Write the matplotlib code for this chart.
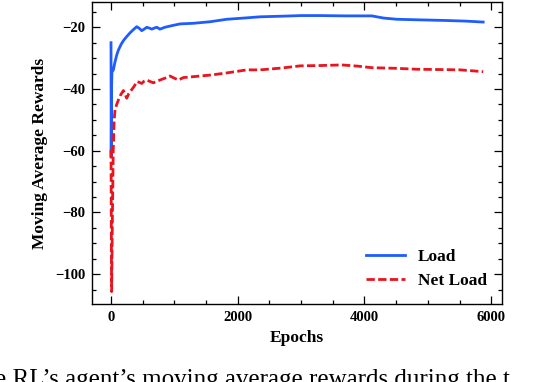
import matplotlib
matplotlib.use("Agg")
import matplotlib.pyplot as plt
from matplotlib.ticker import MultipleLocator

load_epochs = [0, 3, 8, 15, 37, 60, 90, 116, 160, 200, 248, 300, 350, 406, 450, 485, 530, 564,
               610, 643, 690, 722, 750, 772, 850, 931, 1089, 1300, 1563, 1826, 2100, 2352, 2700,
               3000, 3300, 3700, 4115, 4300, 4510, 4900, 5300, 5600, 5873]
load_values = [-25.0, -62.0, -40.0, -34.5, -33.8, -31.5, -29.0, -27.4, -25.5, -24.2, -23.0, -21.8,
               -20.8, -19.8, -20.4, -21.1, -20.5, -20.0, -20.3, -20.6, -20.2, -20.0, -20.3, -20.6,
               -20.0, -19.6, -18.9, -18.7, -18.2, -17.4, -17.0, -16.6, -16.4, -16.2, -16.2, -16.3,
               -16.3, -17.0, -17.4, -17.6, -17.8, -18.0, -18.3]

net_epochs = [0, 3, 6, 10, 20, 35, 50, 63, 90, 116, 150, 195, 220, 248, 280, 327, 370, 406, 440,
              485, 520, 564, 620, 669, 720, 772, 850, 931, 1000, 1063, 1142, 1300, 1563, 1826,
              2141, 2352, 2700, 2983, 3300, 3640, 3900, 4115, 4500, 4825, 5200, 5509, 5700, 5873]
net_values = [-59.8, -75.0, -90.0, -105.7, -85.0, -60.0, -50.0, -46.8, -45.0, -43.6, -42.0, -40.5,
              -41.5, -43.0, -41.5, -40.2, -39.0, -37.6, -37.8, -38.2, -37.5, -37.1, -37.6, -38.0,
              -37.5, -37.1, -36.5, -35.8, -36.5, -37.1, -36.3, -36.0, -35.5, -34.8, -33.8, -33.8,
              -33.2, -32.5, -32.4, -32.2, -32.6, -33.1, -33.3, -33.6, -33.7, -33.8, -34.1, -34.4]

series_labels = ["Load", "Net Load"]
x_label = "Epochs"
y_label = "Moving Average Rewards"
caption = "e RL\u2019s agent\u2019s moving average rewards during the t"

plt.rcParams['font.family'] = ['Liberation Serif', 'DejaVu Serif']
plt.rcParams['font.weight'] = 'bold'
plt.rcParams['axes.labelweight'] = 'bold'

W, H = 538, 382
fig = plt.figure(figsize=(W / 100, H / 100), dpi=100)
ax = fig.add_axes([92 / W, 1 - 304 / H, (502 - 92) / W, (304 - 2) / H])

ax.plot(load_epochs, load_values, color='#1f5cff', lw=2.0, label=series_labels[0])
ax.plot(net_epochs, net_values, color='#e8141e', lw=2.0, ls='--', dashes=(3.0, 1.2),
        label=series_labels[1])

ax.set_xlim(-300, 6170)
ax.set_ylim(-109.7, -11.8)
ax.xaxis.set_major_locator(MultipleLocator(2000))
ax.xaxis.set_minor_locator(MultipleLocator(500))
ax.yaxis.set_major_locator(MultipleLocator(20))
ax.yaxis.set_minor_locator(MultipleLocator(5))
ax.tick_params(which='both', direction='in', top=True, right=True, width=0.9)
ax.tick_params(which='major', length=5.5, labelsize=10.5, pad=5)
ax.tick_params(which='minor', length=3)
for s in ax.spines.values():
    s.set_linewidth(1.0)
for lab in ax.get_xticklabels() + ax.get_yticklabels():
    lab.set_fontweight('bold')

ax.set_xlabel(x_label, fontsize=12.5, fontweight='bold', labelpad=4)
ax.set_ylabel(y_label, fontsize=12.5, fontweight='bold', labelpad=5)

leg = ax.legend(loc='lower right', frameon=False, prop={'size': 12.5, 'weight': 'bold'},
                handlelength=2.25, handletextpad=0.75, borderaxespad=0.55, borderpad=0.3,
                labelspacing=0.45)

fig.text(-0.0094, 0.035, caption, fontsize=18, fontweight='normal', va='top', ha='left')

fig.savefig('out.png', dpi=100)
